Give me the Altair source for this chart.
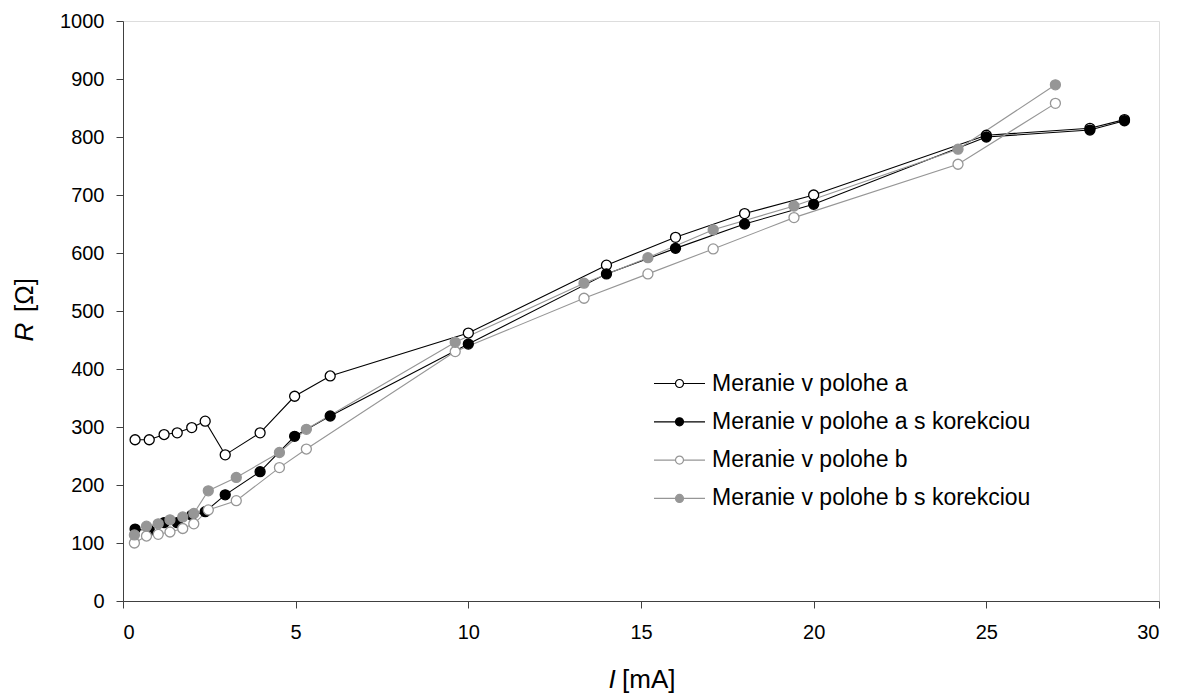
import altair as alt
import pandas as pd

# ---- data ----
names = [
    "Meranie v polohe a",
    "Meranie v polohe a s korekciou",
    "Meranie v polohe b",
    "Meranie v polohe b s korekciou",
]
I_a = [0.35, 0.76, 1.19, 1.57, 1.99, 2.38, 2.96, 3.97, 4.97, 6.0,
       10.0, 14.0, 16.0, 18.0, 20.0, 25.0, 28.0, 29.0]
R_a = [278, 278, 287, 290, 299, 310, 252, 290, 353, 388,
       462, 579, 627, 668, 700, 803, 815, 830]
R_ak = [124, 122, 135, 135, 148, 154, 183, 223, 284, 319,
        443, 564, 608, 650, 684, 800, 812, 828]
I_b = [0.33, 0.68, 1.02, 1.36, 1.73, 2.05, 2.47, 3.28, 4.53, 5.31,
       9.62, 13.35, 15.2, 17.09, 19.43, 24.18, 27.0]
R_b = [100, 112, 115, 119, 125, 133, 157, 173, 230, 262,
       430, 522, 564, 607, 661, 753, 858]
R_bk = [114, 129, 133, 140, 145, 151, 190, 213, 256, 296,
        446, 548, 592, 640, 681, 779, 890]

x_ticks = [0, 5, 10, 15, 20, 25, 30]
y_ticks = [0, 100, 200, 300, 400, 500, 600, 700, 800, 900, 1000]

stroke_colors = ["#000000", "#000000", "#969696", "#969696"]
fill_colors = ["#ffffff", "#000000", "#ffffff", "#969696"]

rows = []
for name, xs, ys in [(names[0], I_a, R_a), (names[1], I_a, R_ak),
                     (names[2], I_b, R_b), (names[3], I_b, R_bk)]:
    for x, y in zip(xs, ys):
        rows.append({"series": name, "I": x, "R": y, "order": names.index(name)})
df = pd.DataFrame(rows)

FONT = "Liberation Sans"
W, H = 1036, 580

sym = ("M-2.55,0H-0.4M0.4,0H2.55"
       "M0.4,0A0.4,0.4,0,1,1,-0.4,0A0.4,0.4,0,1,1,0.4,0Z")

legend = alt.Legend(
    orient="none", legendX=545, legendY=351, title=None,
    symbolType=sym, symbolSize=400, symbolStrokeWidth=1.2,
    labelFont=FONT, labelFontSize=23, labelColor="#000000",
    labelLimit=0, labelOffset=21, rowPadding=14.3, padding=0,
)

stroke = alt.Stroke("series:N", sort=names,
                    scale=alt.Scale(domain=names, range=stroke_colors),
                    legend=legend)
fill = alt.Fill("series:N", sort=names,
                scale=alt.Scale(domain=names, range=fill_colors),
                legend=legend)

axis_common = dict(grid=False, title=None, tickSize=7,
                   domainColor="#404040", tickColor="#404040",
                   domainWidth=1, tickWidth=1,
                   labelFont=FONT, labelFontSize=20, labelColor="#000000",
                   format="d")

x_enc = alt.X("I:Q", scale=alt.Scale(domain=[0, 30], nice=False),
              axis=alt.Axis(values=x_ticks, labelPadding=14, **axis_common))
y_enc = alt.Y("R:Q", scale=alt.Scale(domain=[0, 1000], nice=False),
              axis=alt.Axis(values=y_ticks, labelPadding=12, **axis_common))

base = alt.Chart(df)
lines = base.mark_line(strokeWidth=1.1).encode(
    x=x_enc, y=y_enc, stroke=stroke, detail="series:N",
    order=alt.Order("I:Q"),
)
points = base.mark_point(shape="circle", size=100, strokeWidth=1.3,
                         opacity=1).encode(
    x=x_enc, y=y_enc, stroke=stroke, fill=fill,
    order=alt.Order("order:Q"),
)

def txt(t, x, y, angle=0, italic=False, align="center"):
    return alt.Chart(alt.Data(values=[{"t": t}])).mark_text(
        font=FONT, fontSize=26, fontStyle="italic" if italic else "normal",
        angle=angle, align=align, baseline="middle", color="#000000",
    ).encode(text="t:N", x=alt.value(x), y=alt.value(y))

titles = [
    txt("R", -98, 311, angle=270, italic=True),
    txt("[Ω]", -98, 274, angle=270),
    txt("I", 489, 659, italic=True),
    txt("[mA]", 499, 659, align="left"),
]

chart = alt.layer(lines, points, *titles).properties(
    width=W, height=H,
    autosize=alt.AutoSizeParams(type="none"),
    padding={"left": 123, "top": 21, "right": 22, "bottom": 98},
).configure_view(stroke=None).configure(background="#ffffff")

chart.save("out.html", embed_options={"renderer": "svg", "actions": False})
